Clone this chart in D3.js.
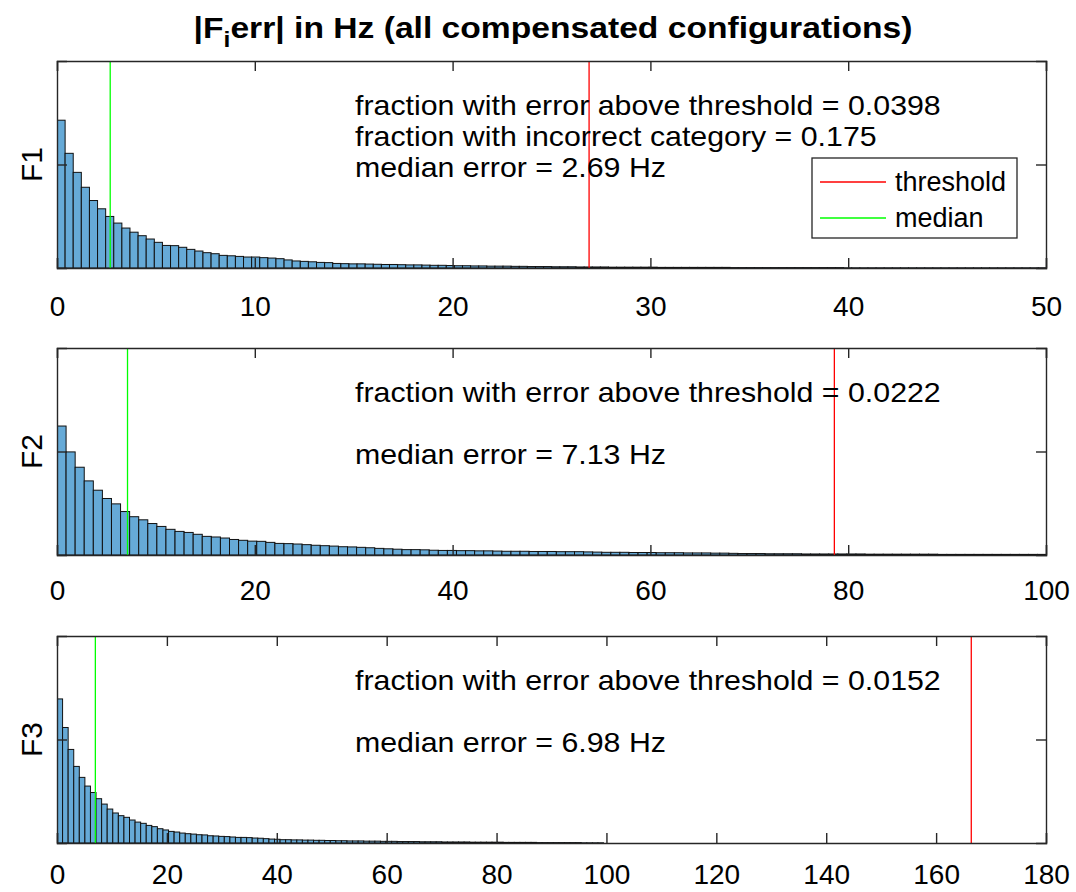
<!DOCTYPE html>
<html>
<head>
<meta charset="utf-8">
<script src="https://d3js.org/d3.v7.min.js"></script>
<style>
  html, body { margin: 0; padding: 0; background: #fff; }
  svg { display: block; font-family: "Liberation Sans", Arial, Helvetica, sans-serif; }
</style>
</head>
<body>
<svg id="chart" width="1076" height="892"></svg>
<script>
// ---------- data ----------
const panelNames = ["F1", "F2", "F3"];
const xMax = [50, 100, 180];
const xTicks1 = [0, 10, 20, 30, 40, 50];
const xTicks2 = [0, 20, 40, 60, 80, 100];
const xTicks3 = [0, 20, 40, 60, 80, 100, 120, 140, 160, 180];
const binWidth = [0.41, 0.918, 1.015];
// bar heights, in percent of the y-axis range
const counts1 = [71.4,55.4,46.2,39.0,32.6,28.6,24.9,21.7,19.3,17.3,
  15.6,14.0,12.4,10.9,10.8,10.0,9.0,8.2,7.4,6.9,
  6.1,5.9,5.6,5.3,5.3,5.0,4.8,4.5,3.9,3.4,
  3.2,3.0,2.7,2.6,2.2,2.1,2.0,2.0,1.9,1.8,
  1.7,1.7,1.6,1.5,1.5,1.4,1.3,1.3,1.2,1.1,
  1.1,1.0,1.0,0.9,0.9,0.9,0.8,0.8,0.7,0.7,
  0.7,0.6,0.6,0.6,0.5,0.5,0.5,0.5,0.4,0.4,
  0.4,0.4,0.4,0.4,0.3,0.3,0.3,0.3,0.3,0.3,
  0.3,0.3,0.3,0.2,0.2,0.2,0.2,0.2,0.2,0.2,
  0.2,0.2,0.2,0.2,0.2,0.2,0.2,0.1,0.1,0.1,
  0.1,0.1,0.1,0.1,0.1,0.1,0.1,0.1,0.1,0.1,
  0.1,0.1,0.1,0.1,0.1,0.1,0.1,0.1,0.1,0.1,
  0.1,0.1];
const counts2 = [62.3,49.8,42.4,35.8,31.3,27.3,24.7,21.0,18.5,17.0,
  15.2,13.8,12.4,11.4,10.9,10.0,9.0,8.7,8.2,7.5,
  7.1,6.7,6.6,6.1,5.6,5.5,5.3,5.0,4.7,4.5,
  4.3,4.0,3.9,3.7,3.5,3.2,3.0,2.8,2.6,2.6,
  2.5,2.3,2.2,2.2,2.1,2.1,2.0,2.0,1.9,1.8,
  1.8,1.8,1.7,1.7,1.7,1.6,1.6,1.6,1.5,1.4,
  1.3,1.3,1.3,1.2,1.2,1.2,1.1,1.1,1.1,1.0,
  1.0,1.0,0.9,0.9,0.8,0.7,0.7,0.7,0.6,0.6,
  0.6,0.6,0.5,0.5,0.5,0.5,0.5,0.5,0.5,0.4,
  0.4,0.4,0.4,0.4,0.4,0.4,0.4,0.3,0.3,0.3,
  0.3,0.3,0.3,0.3,0.3,0.3,0.3,0.3,0.3];
const counts3 = [69.6,55.8,45.2,37.0,31.7,27.5,24.4,21.4,18.8,16.4,
  14.5,13.2,12.4,11.1,10.1,9.5,8.5,7.9,6.9,6.3,
  5.6,5.3,4.8,4.5,4.3,4.0,3.9,3.5,3.4,3.2,
  3.1,2.9,2.7,2.7,2.6,2.4,2.3,2.1,1.9,1.8,
  1.6,1.6,1.5,1.5,1.4,1.4,1.3,1.3,1.2,1.2,
  1.1,1.1,1.0,1.0,1.0,0.9,0.9,0.9,0.8,0.8,
  0.8,0.7,0.7,0.7,0.7,0.6,0.6,0.6,0.6,0.5,
  0.5,0.5,0.5,0.5,0.4,0.4,0.4,0.4,0.4,0.4,
  0.3,0.3,0.3,0.3,0.3,0.3,0.2,0.2,0.2,0.2,
  0.2,0.2,0.2,0.2,0.1,0.1,0.1,0.1];
const thresholds = [26.9, 78.6, 166.4];
const medians = [2.69, 7.13, 6.98];
const annotations1 = ["fraction with error above threshold = 0.0398",
                      "fraction with incorrect category = 0.175",
                      "median error = 2.69 Hz"];
const annotations2 = ["fraction with error above threshold = 0.0222", "", "median error = 7.13 Hz"];
const annotations3 = ["fraction with error above threshold = 0.0152", "", "median error = 6.98 Hz"];
const legendLabels = ["threshold", "median"];
const legendColors = ["#ff0000", "#00ff00"];
const yMaxPct = 100;
const yTickPct = [50];

// ---------- layout ----------
const svg = d3.select("#chart");
const left = 57, right = 1046;
const panelTops = [61, 348, 636];
const panelH = 207;
const tickPad = [28, 25, 21];
const axisColor = "#262626";
const barFill = "#66aad7";

const panels = [
  {counts: counts1, ticks: xTicks1, ann: annotations1},
  {counts: counts2, ticks: xTicks2, ann: annotations2},
  {counts: counts3, ticks: xTicks3, ann: annotations3}
];

// helper: stretch a text element horizontally around its anchor point
function stretch(sel, ax, ay, s) {
  sel.attr("x", 0).attr("y", 0).attr("transform", `translate(${ax},${ay}) scale(${s},1)`);
}

// Title
const title = svg.append("text")
  .attr("text-anchor", "middle")
  .attr("font-size", 30).attr("font-weight", "bold").attr("fill", "#000");
title.append("tspan").text("|F");
title.append("tspan").attr("font-size", 22).attr("dy", 9).text("i");
title.append("tspan").attr("dy", -9).text("err| in Hz (all compensated configurations)");
const tw = title.node().getComputedTextLength();
stretch(title, 553, 38, 719 / tw);

// annotation stretch factor from line-1 reference width
const annFont = 27;
const probe = svg.append("text").attr("font-size", annFont).text(annotations1[0]);
const annScale = 586 / probe.node().getComputedTextLength();
probe.remove();

panels.forEach((p, k) => {
  const top = panelTops[k], bottom = top + panelH;
  const x = d3.scaleLinear().domain([0, xMax[k]]).range([left, right]);
  const y = d3.scaleLinear().domain([0, yMaxPct]).range([bottom, top]);
  const g = svg.append("g");

  const clipId = "clip" + k;
  svg.append("clipPath").attr("id", clipId)
    .append("rect").attr("x", left).attr("y", top).attr("width", right - left).attr("height", panelH);

  const bins = p.counts.map((v, i) => ({x0: i * binWidth[k], x1: (i + 1) * binWidth[k], v}));
  g.append("g").attr("clip-path", `url(#${clipId})`)
    .selectAll("rect").data(bins).join("rect")
    .attr("x", d => x(d.x0))
    .attr("y", d => y(d.v))
    .attr("width", d => x(d.x1) - x(d.x0))
    .attr("height", d => y(0) - y(d.v))
    .attr("fill", barFill)
    .attr("stroke", "#111")
    .attr("stroke-width", 1);

  // threshold / median lines
  g.append("line").attr("x1", x(thresholds[k])).attr("x2", x(thresholds[k]))
    .attr("y1", top).attr("y2", bottom).attr("stroke", legendColors[0]).attr("stroke-width", 1.3);
  g.append("line").attr("x1", x(medians[k])).attr("x2", x(medians[k]))
    .attr("y1", top).attr("y2", bottom).attr("stroke", legendColors[1]).attr("stroke-width", 1.3);

  // axes: bottom with labels, top without, ticks inward
  const xb = d3.axisBottom(x).tickValues(p.ticks).tickSize(-10).tickPadding(tickPad[k]).tickFormat(d3.format("d"));
  const xt = d3.axisTop(x).tickValues(p.ticks).tickSize(-10).tickFormat("");
  const yl = d3.axisLeft(y).tickValues(yTickPct).tickSize(-10).tickFormat("");
  const yr = d3.axisRight(y).tickValues(yTickPct).tickSize(-10).tickFormat("");
  const ab = g.append("g").attr("transform", `translate(0,${bottom})`).call(xb);
  const at = g.append("g").attr("transform", `translate(0,${top})`).call(xt);
  const al = g.append("g").attr("transform", `translate(${left},0)`).call(yl);
  const ar = g.append("g").attr("transform", `translate(${right},0)`).call(yr);
  [ab, at, al, ar].forEach(a => {
    a.select(".domain").attr("stroke", axisColor).attr("stroke-width", 1.4);
    a.selectAll(".tick line").attr("stroke", axisColor).attr("stroke-width", 1.4);
  });
  ab.selectAll(".tick text").attr("font-size", 28).attr("fill", "#000")
    .attr("font-family", "'Liberation Sans', Arial, sans-serif");

  // y label
  svg.append("text")
    .attr("transform", `translate(42,${(top + bottom) / 2}) rotate(-90)`)
    .attr("text-anchor", "middle")
    .attr("font-size", 30).attr("fill", "#000")
    .text(panelNames[k]);

  // annotations
  p.ann.forEach((t, i) => {
    if (!t) return;
    const el = svg.append("text").attr("font-size", annFont).attr("fill", "#000").text(t);
    stretch(el, 355, top + 54 + i * 31, annScale);
  });
});

// legend (panel 1)
const lg = svg.append("g");
lg.append("rect").attr("x", 812).attr("y", 158).attr("width", 205).attr("height", 80)
  .attr("fill", "#fff").attr("stroke", axisColor).attr("stroke-width", 1.3);
legendLabels.forEach((lab, i) => {
  const yy = 182 + i * 36;
  lg.append("line").attr("x1", 820).attr("x2", 886).attr("y1", yy).attr("y2", yy)
    .attr("stroke", legendColors[i]).attr("stroke-width", 1.3);
  lg.append("text").attr("x", 895).attr("y", yy + 9).attr("font-size", 27).attr("fill", "#000").text(lab);
});
</script>
</body>
</html>
